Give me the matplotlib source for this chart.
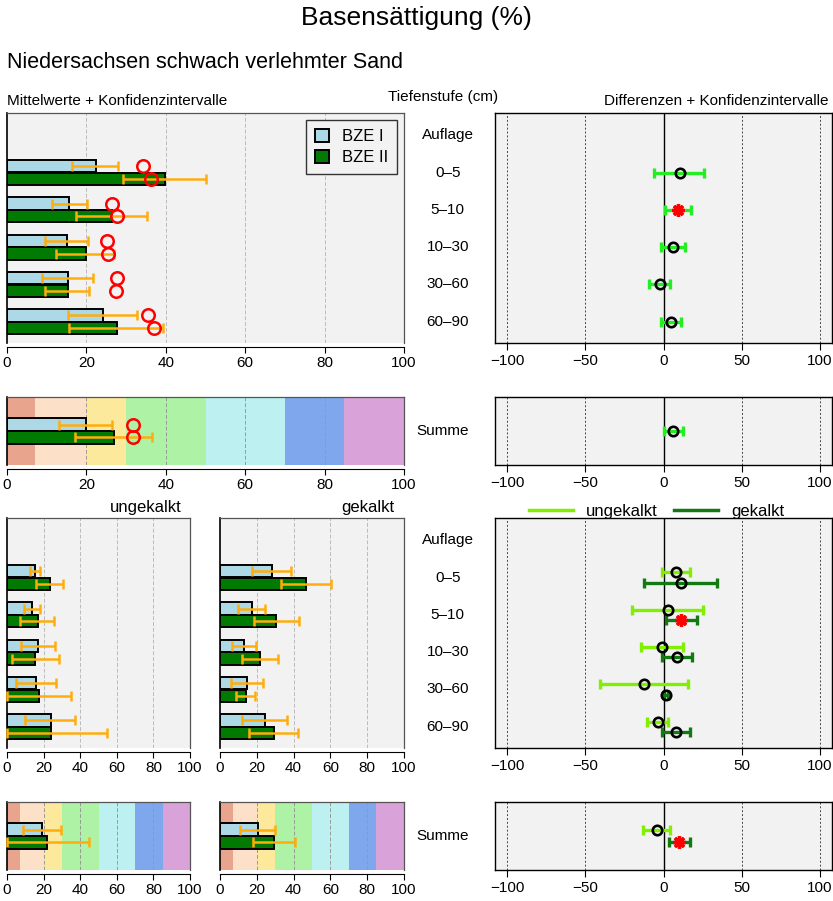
import numpy as np
import matplotlib
matplotlib.use('Agg')
import matplotlib.pyplot as plt
from matplotlib.lines import Line2D
from matplotlib.patches import Patch

plt.rcParams['font.family'] = ['Liberation Sans', 'DejaVu Sans']

depths = ['Auflage', '0–5', '5–10', '10–30', '30–60', '60–90']

# gesamt: Mittelwerte, Konfidenzintervalle, Mediane (rote Kreise); Auflage ohne Werte
bze1_mean = [22.3, 15.6, 15.0, 15.4, 24.1]
bze1_lo = [16.3, 11.3, 9.6, 8.9, 15.4]
bze1_hi = [28.0, 20.1, 20.3, 21.7, 32.8]
bze1_med = [34.3, 26.4, 25.1, 27.8, 35.6]
bze2_mean = [39.8, 26.5, 19.8, 15.3, 27.6]
bze2_lo = [29.3, 17.5, 12.3, 9.6, 15.7]
bze2_hi = [50.1, 35.2, 27.0, 20.7, 39.2]
bze2_med = [36.2, 27.8, 25.4, 27.5, 37.0]

sum_bze1 = [20.0, 13.1, 26.5, 31.7]   # mean, lo, hi, median
sum_bze2 = [27.0, 17.2, 36.6, 31.7]

diff_mean = [10.3, 9.4, 6.0, -2.3, 4.5]
diff_lo = [-5.8, 0.9, -1.3, -9.0, -1.9]
diff_hi = [25.8, 17.7, 13.5, 4.1, 11.5]
diff_sig = [False, True, False, False, False]
sum_diff = [6.2, 0.2, 12.6, False]

# ungekalkt
u_bze1_mean = [15.2, 13.7, 17.0, 15.9, 23.8]
u_bze1_lo = [12.6, 9.2, 7.6, 5.1, 10.1]
u_bze1_hi = [18.1, 18.1, 26.2, 26.7, 37.2]
u_bze2_mean = [23.5, 16.8, 15.4, 17.7, 24.0]
u_bze2_lo = [15.9, 7.2, 2.5, 0.0, 0.0]
u_bze2_hi = [30.7, 25.8, 28.4, 34.7, 54.7]
u_sum_bze1 = [19.1, 8.7, 29.6]
u_sum_bze2 = [22.1, 0.0, 45.0]

# gekalkt
g_bze1_mean = [28.2, 17.3, 13.3, 14.7, 24.4]
g_bze1_lo = [17.5, 9.6, 6.5, 6.2, 12.0]
g_bze1_hi = [38.4, 24.7, 19.6, 23.5, 36.5]
g_bze2_mean = [46.9, 30.5, 21.8, 14.2, 29.1]
g_bze2_lo = [32.9, 18.4, 11.8, 8.9, 15.6]
g_bze2_hi = [60.4, 42.7, 31.3, 19.1, 42.4]
g_sum_bze1 = [20.5, 10.9, 30.1]
g_sum_bze2 = [29.3, 17.8, 40.6]

# Differenzen ungekalkt / gekalkt
du_mean = [7.9, 2.8, -1.1, -12.8, -3.8]
du_lo = [-1.1, -20.3, -14.5, -40.6, -10.3]
du_hi = [16.7, 25.6, 12.4, 15.4, 2.8]
du_sig = [False, False, False, False, False]
dg_mean = [10.9, 11.5, 8.8, 1.5, 7.9]
dg_lo = [-12.4, 1.7, -0.9, 0.4, -0.9]
dg_hi = [34.2, 21.4, 18.4, 2.6, 16.7]
dg_sig = [False, True, False, False, False]
du_sum = [-4.4, -13.0, 4.1, False]
dg_sum = [10.2, 3.4, 17.1, True]

# Bewertungsklassen (Hintergrund der Summen-Panels)
band_edges = [0, 7, 20, 30, 50, 70, 85, 100]
band_colors = ['#e9a48e', '#fde0c8', '#fde99c', '#aef2a6', '#bdf0f0', '#7fa7ee', '#d9a2d9']

BG = '#f2f2f2'
C1 = '#add8e6'
C2 = '#007a00'
CI = '#ffad0d'
W, H = 833, 901

fig = plt.figure(figsize=(W / 100, H / 100), dpi=100)


def panel(x0, y0, x1, y1):
    return fig.add_axes([x0 / W, 1 - y1 / H, (x1 - x0) / W, (y1 - y0) / H])


def style_left(ax, ylim, bands=False):
    ax.set_facecolor(BG)
    ax.set_xlim(0, 100)
    ax.set_ylim(*ylim)
    if bands:
        for i in range(len(band_colors)):
            ax.axvspan(band_edges[i], band_edges[i + 1], color=band_colors[i], lw=0, zorder=0)
    for x in [20, 40, 60, 80]:
        ax.axvline(x, color='#999999' if bands else '#bbbbbb', lw=0.7,
                   ls=(0, (4, 2)), zorder=0.5)
    ax.set_yticks([])
    ax.set_xticks([0, 20, 40, 60, 80, 100])
    ax.tick_params(axis='x', labelsize=11, length=4, width=0.8, pad=2.5)
    for s in ['top', 'right']:
        ax.spines[s].set_color('#555555')
        ax.spines[s].set_linewidth(0.9)
    ax.spines['left'].set_color('black')
    ax.spines['left'].set_linewidth(1.2)
    ax.spines['bottom'].set_position(('outward', 3))
    ax.spines['bottom'].set_linewidth(0.8)


def style_diff(ax, ylim):
    ax.set_facecolor(BG)
    ax.set_xlim(-108, 108)
    ax.set_ylim(*ylim)
    for x in [-100, -50, 50, 100]:
        ax.axvline(x, color='#444444', lw=0.7, ls=(0, (2, 2)), zorder=0.5)
    ax.axvline(0, color='black', lw=1.0, zorder=0.6)
    ax.set_yticks([])
    ax.set_xticks([-100, -50, 0, 50, 100])
    ax.tick_params(axis='x', labelsize=11, length=5, width=0.8, pad=3)
    for s in ax.spines.values():
        s.set_linewidth(1.0)


def bars(ax, y, m1, lo1, hi1, m2, lo2, hi2, med1=None, med2=None, off=0.17):
    y = np.asarray(y, dtype=float)
    m1, lo1, hi1 = map(np.asarray, (m1, lo1, hi1))
    m2, lo2, hi2 = map(np.asarray, (m2, lo2, hi2))
    ax.barh(y - off, m1, height=0.33, color=C1, edgecolor='black', lw=1.4, zorder=2)
    ax.barh(y + off, m2, height=0.33, color=C2, edgecolor='black', lw=1.4, zorder=2)
    ax.errorbar(m1, y - off, xerr=[m1 - lo1, hi1 - m1], fmt='none', ecolor=CI,
                elinewidth=1.8, capsize=3.5, capthick=1.8, zorder=3, clip_on=False)
    ax.errorbar(m2, y + off, xerr=[m2 - lo2, hi2 - m2], fmt='none', ecolor=CI,
                elinewidth=1.8, capsize=3.5, capthick=1.8, zorder=3, clip_on=False)
    if med1 is not None:
        ax.plot(med1, y - off, 'o', ms=9, mfc='none', mec='red', mew=1.8, zorder=4)
        ax.plot(med2, y + off, 'o', ms=9, mfc='none', mec='red', mew=1.8, zorder=4)


def diffs(ax, y, m, lo, hi, sig, color):
    y = np.asarray(y, dtype=float)
    m, lo, hi, sig = map(np.asarray, (m, lo, hi, sig))
    ax.errorbar(m, y, xerr=[m - lo, hi - m], fmt='none', ecolor=color,
                elinewidth=2.4, capsize=3.5, capthick=2.4, zorder=3)
    ax.plot(m[~sig], y[~sig], 'o', ms=6.8, mfc='none', mec='black', mew=1.9, zorder=4)
    ax.plot(m[sig], y[sig], ls='none', marker=(8, 2, 0), ms=9, mec='red', mew=2.4, zorder=4)


rows = np.arange(1, len(depths))
ylim_rows = (5.57, -0.6)
ylim_sum = (0.91, -0.91)

# --- Titel ---
fig.text(0.5, 1 - 18 / H, 'Basensättigung (%)', ha='center', va='center', fontsize=19)
fig.text(7 / W, 1 - 63 / H, 'Niedersachsen schwach verlehmter Sand', va='center', fontsize=15.5)
fig.text(7 / W, 1 - 101 / H, 'Mittelwerte + Konfidenzintervalle', va='center', fontsize=11)
fig.text(443 / W, 1 - 97 / H, 'Tiefenstufe (cm)', ha='center', va='center', fontsize=11)
fig.text(828 / W, 1 - 101 / H, 'Differenzen + Konfidenzintervalle', ha='right', va='center', fontsize=11)

# --- gesamt ---
ax = panel(7, 113, 404, 343)
style_left(ax, ylim_rows)
bars(ax, rows, bze1_mean, bze1_lo, bze1_hi, bze2_mean, bze2_lo, bze2_hi, bze1_med, bze2_med)
ax.legend(handles=[Patch(fc=C1, ec='black', lw=1.4), Patch(fc=C2, ec='black', lw=1.4)],
          labels=['BZE I', 'BZE II'], loc='upper right', fontsize=12, fancybox=False,
          edgecolor='#333333', framealpha=1, facecolor=BG, handlelength=0.8,
          handleheight=0.8, borderaxespad=0.4, labelspacing=0.35, borderpad=0.55,
          handletextpad=0.8)

ax = panel(495, 113, 832, 343)
style_diff(ax, ylim_rows)
diffs(ax, rows, diff_mean, diff_lo, diff_hi, diff_sig, '#22ee22')
for i, d in enumerate(depths):
    ax.text(-0.14, i, d, transform=ax.get_yaxis_transform(), ha='center', va='center',
            fontsize=11, clip_on=False)

ax = panel(7, 397, 404, 465)
style_left(ax, ylim_sum, bands=True)
bars(ax, [0], sum_bze1[:1], sum_bze1[1:2], sum_bze1[2:3], sum_bze2[:1], sum_bze2[1:2],
     sum_bze2[2:3], sum_bze1[3:], sum_bze2[3:])

ax = panel(495, 397, 832, 465)
style_diff(ax, ylim_sum)
diffs(ax, [0], sum_diff[:1], sum_diff[1:2], sum_diff[2:3], sum_diff[3:], '#22ee22')
ax.text(-0.155, 0, 'Summe', transform=ax.get_yaxis_transform(), ha='center', va='center',
        fontsize=11, clip_on=False)

# --- ungekalkt / gekalkt ---
ax = panel(7, 518, 190, 748)
style_left(ax, ylim_rows)
bars(ax, rows, u_bze1_mean, u_bze1_lo, u_bze1_hi, u_bze2_mean, u_bze2_lo, u_bze2_hi)
ax.text(0.955, 1.015, 'ungekalkt', transform=ax.transAxes, ha='right', va='bottom', fontsize=12)

ax = panel(220, 518, 404, 748)
style_left(ax, ylim_rows)
bars(ax, rows, g_bze1_mean, g_bze1_lo, g_bze1_hi, g_bze2_mean, g_bze2_lo, g_bze2_hi)
ax.text(0.945, 1.015, 'gekalkt', transform=ax.transAxes, ha='right', va='bottom', fontsize=12)

ax = panel(495, 518, 832, 748)
style_diff(ax, ylim_rows)
diffs(ax, rows - 0.14, du_mean, du_lo, du_hi, du_sig, '#80f000')
diffs(ax, rows + 0.14, dg_mean, dg_lo, dg_hi, dg_sig, '#117a11')
for i, d in enumerate(depths):
    ax.text(-0.14, i, d, transform=ax.get_yaxis_transform(), ha='center', va='center',
            fontsize=11, clip_on=False)
ax.legend(handles=[Line2D([], [], color='#80f000', lw=2.5), Line2D([], [], color='#117a11', lw=2.5)],
          labels=['ungekalkt', 'gekalkt'], loc='lower center', bbox_to_anchor=(0.48, 0.99),
          ncol=2, frameon=False, fontsize=12, handlelength=2.6, columnspacing=1.0,
          borderaxespad=0, borderpad=0.1)

ax = panel(7, 802, 190, 870)
style_left(ax, ylim_sum, bands=True)
bars(ax, [0], u_sum_bze1[:1], u_sum_bze1[1:2], u_sum_bze1[2:], u_sum_bze2[:1],
     u_sum_bze2[1:2], u_sum_bze2[2:])

ax = panel(220, 802, 404, 870)
style_left(ax, ylim_sum, bands=True)
bars(ax, [0], g_sum_bze1[:1], g_sum_bze1[1:2], g_sum_bze1[2:], g_sum_bze2[:1],
     g_sum_bze2[1:2], g_sum_bze2[2:])

ax = panel(495, 802, 832, 870)
style_diff(ax, ylim_sum)
diffs(ax, [-0.17], du_sum[:1], du_sum[1:2], du_sum[2:3], du_sum[3:], '#80f000')
diffs(ax, [0.17], dg_sum[:1], dg_sum[1:2], dg_sum[2:3], dg_sum[3:], '#117a11')
ax.text(-0.155, 0, 'Summe', transform=ax.get_yaxis_transform(), ha='center', va='center',
        fontsize=11, clip_on=False)

fig.savefig('out.png', dpi=100)
